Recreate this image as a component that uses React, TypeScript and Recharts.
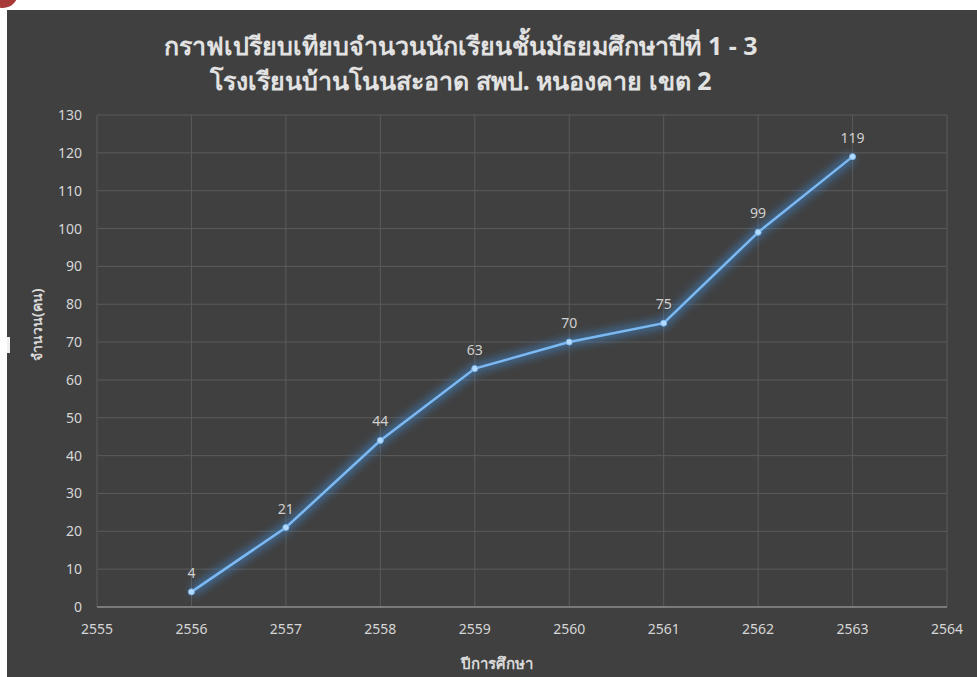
import React from "react";
import {
  LineChart,
  Line,
  XAxis,
  YAxis,
  CartesianGrid,
  LabelList,
  Label,
} from "recharts";

const years = [2556, 2557, 2558, 2559, 2560, 2561, 2562, 2563];
const students = [4, 21, 44, 63, 70, 75, 99, 119];
const xTicks = [2555, 2556, 2557, 2558, 2559, 2560, 2561, 2562, 2563, 2564];
const yTicks = [0, 10, 20, 30, 40, 50, 60, 70, 80, 90, 100, 110, 120, 130];
const titleLines = [
  "กราฟเปรียบเทียบจำนวนนักเรียนชั้นมัธยมศึกษาปีที่ 1 - 3",
  "โรงเรียนบ้านโนนสะอาด สพป. หนองคาย เขต 2",
];
const yLabel = "จำนวน(คน)";
const xLabel = "ปีการศึกษา";

const data = years.map((y, i) => ({ year: y, value: students[i] }));

const FONT = "'Noto Sans', 'Open Sans', sans-serif";

export default function App() {
  return (
    <div
      style={{
        position: "absolute",
        left: 0,
        top: 0,
        width: 977,
        height: 677,
        background: "#ffffff",
        overflow: "hidden",
      }}
    >
      <div
        style={{
          position: "absolute",
          left: -12,
          top: -22,
          width: 30,
          height: 30,
          borderRadius: "50%",
          background: "#a83a3a",
        }}
      />
      <div
        style={{
          position: "absolute",
          left: 7,
          top: 10,
          width: 970,
          height: 667,
          background: "#404040",
        }}
      >
        <div
          style={{
            position: "absolute",
            left: 0,
            top: 327,
            width: 3,
            height: 16,
            background: "#f0f0f0",
          }}
        />
        {titleLines.map((t, i) => (
          <div
            key={i}
            style={{
              position: "absolute",
              left: 0,
              width: 908,
              top: 18 + i * 35,
              height: 35,
              textAlign: "center",
              color: "#e2e2e2",
              fontFamily: FONT,
              fontWeight: 700,
              fontSize: 25,
              lineHeight: "35px",
              whiteSpace: "nowrap",
            }}
          >
            {t}
          </div>
        ))}
        <LineChart
          width={970}
          height={667}
          data={data}
          margin={{ top: 105, right: 30, bottom: 40, left: 40 }}
          style={{ position: "absolute", left: 0, top: 0 }}
        >
          <defs>
            <filter id="glow" x="-20%" y="-20%" width="140%" height="140%">
              <feGaussianBlur stdDeviation="4" />
            </filter>
          </defs>
          <CartesianGrid stroke="#5a5a5a" strokeWidth={1} />
          <XAxis
            dataKey="year"
            type="number"
            domain={[2555, 2564]}
            ticks={xTicks}
            interval={0}
            height={30}
            tickLine={false}
            tickSize={0}
            tickMargin={17}
            axisLine={{ stroke: "#8a8a8a", strokeWidth: 1.5 }}
            tick={{ fill: "#d6d6d6", fontSize: 14, fontFamily: FONT }}
          >
            <Label
              value={xLabel}
              position="bottom"
              offset={21}
              dx={-25}
              fill="#d8d8d8"
              fontSize={15}
              fontWeight={700}
              fontFamily={FONT}
            />
          </XAxis>
          <YAxis
            type="number"
            domain={[0, 130]}
            ticks={yTicks}
            interval={0}
            width={50}
            tickLine={false}
            axisLine={false}
            tickSize={0}
            tickMargin={15}
            tick={{ fill: "#d6d6d6", fontSize: 14, fontFamily: FONT }}
          >
            <Label
              value={yLabel}
              angle={-90}
              position="insideLeft"
              offset={-10}
              fill="#d8d8d8"
              fontSize={14}
              fontWeight={700}
              fontFamily={FONT}
            />
          </YAxis>
          <Line
            dataKey="value"
            type="linear"
            stroke="#3f8fe0"
            strokeWidth={9}
            strokeOpacity={0.55}
            dot={false}
            activeDot={false}
            filter="url(#glow)"
            isAnimationActive={false}
          />
          <Line
            dataKey="value"
            type="linear"
            stroke="#7cb9f2"
            strokeWidth={2.5}
            dot={{ r: 3, fill: "#b5dcff", stroke: "#7cb9f2", strokeWidth: 1 }}
            activeDot={false}
            isAnimationActive={false}
          >
            <LabelList
              dataKey="value"
              position="top"
              offset={14}
              fill="#d0d0d0"
              fontSize={14}
              fontFamily={FONT}
            />
          </Line>
        </LineChart>
      </div>
    </div>
  );
}
